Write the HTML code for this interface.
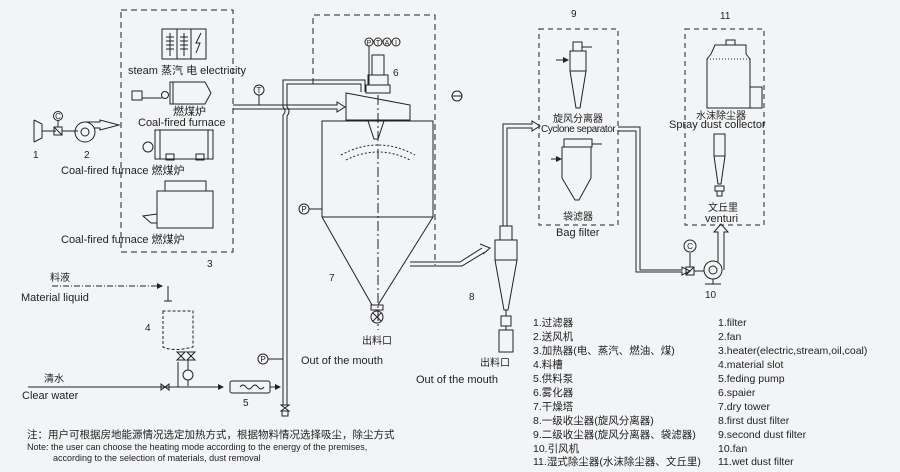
<!DOCTYPE html>
<html><head><meta charset="utf-8"><style>
html,body{margin:0;padding:0;background:#f3f4f6;}
svg{display:block;font-family:"Liberation Sans","Noto Sans CJK SC",sans-serif;}
text{fill:#222;}
</style></head><body>
<svg width="900" height="472" viewBox="0 0 900 472" xmlns="http://www.w3.org/2000/svg">
<rect width="900" height="472" fill="#f3f4f6"/>
<defs>
<marker id="ar" markerWidth="6" markerHeight="6" refX="5" refY="3" orient="auto"><path d="M0,0L6,3L0,6z" fill="#222"/></marker>
</defs>
<g fill="none" stroke="#222" stroke-width="1">
<rect x="121" y="10" width="112" height="242" stroke-dasharray="6,4"/>
<rect x="162" y="29" width="44" height="30"/><line x1="177" y1="29" x2="177" y2="59"/><line x1="191" y1="29" x2="191" y2="59"/>
<line x1="170" y1="33" x2="170" y2="56"/><line x1="184" y1="33" x2="184" y2="56"/>
<path d="M166,37h8M166,41h8M166,45h8M166,49h8M180,37h8M180,41h8M180,45h8M180,49h8"/>
<path d="M201,33l-5,10h4l-4,10"/>
<rect x="132" y="91" width="10" height="9"/><path d="M142,98h20"/><circle cx="165" cy="95" r="3.5"/>
<path d="M170,82h35l6,11l-6,11h-35z"/><line x1="173" y1="82" x2="173" y2="104"/>
<circle cx="148" cy="147" r="5"/><rect x="155" y="130" width="58" height="29"/><line x1="160" y1="130" x2="160" y2="159"/><line x1="208" y1="130" x2="208" y2="159"/>
<rect x="166" y="154" width="8" height="6"/><rect x="196" y="154" width="8" height="6"/>
<rect x="165" y="181" width="41" height="10"/><rect x="157" y="191" width="56" height="37"/><path d="M157,214l-14,2l8,7h6"/>
<path d="M34,120v22M34,120l8,4v14l-8,4M42,131h14"/><rect x="54" y="127" width="8" height="8"/><path d="M54,127l8,8"/><line x1="58" y1="127" x2="58" y2="120"/><circle cx="58" cy="116" r="4.5"/>
<path d="M62,131h16"/><circle cx="85" cy="132" r="10"/><circle cx="85" cy="132" r="4"/>
<path d="M86,122h14v-2l19,5l-19,5v-2h-6"/>
<path d="M233,105h104v-3l8,5l-8,5v-3h-104"/><line x1="259" y1="95" x2="259" y2="105"/><circle cx="259" cy="90" r="5"/>
<path d="M283,405V115q4,-4 0,-8V80h82v12"/><path d="M287,405V116q4,-5 0,-9V84h74v8"/>
<line x1="283" y1="359" x2="268" y2="359"/><circle cx="263" cy="359" r="5"/>
<path d="M281,405l8,0l-8,6h8z"/><rect x="282" y="411" width="6" height="5"/>
<path d="M313,84V15h122v250" stroke-dasharray="6,4"/>
<circle cx="457" cy="96" r="5"/><line x1="452" y1="96" x2="462" y2="96"/>
<rect x="372" y="55" width="12" height="20"/><rect x="368" y="75" width="20" height="10"/><rect x="366" y="85" width="24" height="8"/>
<circle cx="369" cy="42" r="4"/><circle cx="378" cy="42" r="4"/><circle cx="387" cy="42" r="4"/><circle cx="396" cy="42" r="4"/><line x1="369" y1="46" x2="369" y2="85"/>
<path d="M346,93l64,12v15h-64z"/>
<path d="M322,121h111v96l-55,88h-6l-50,-88z"/><line x1="322" y1="217" x2="433" y2="217"/>
<path d="M368,121l6,18h4l6,-18"/><line x1="378" y1="95" x2="378" y2="330" stroke-dasharray="10,3,2,3"/>
<path d="M341,155q37,-20 74,0" stroke-dasharray="2,2"/><path d="M346,160q32,-16 64,0" stroke-dasharray="2,2"/>
<rect x="371" y="305" width="12" height="5"/><circle cx="377" cy="317" r="6"/><path d="M373,313l8,8M381,313l-8,8"/>
<line x1="322" y1="209" x2="309" y2="209"/><circle cx="304" cy="209" r="5"/>
<path d="M410,262h50l22,-14"/><path d="M410,266h52l23,-14" /><path d="M480,244l10,4l-7,6"/>
<rect x="500" y="226" width="12" height="14"/><rect x="495" y="240" width="22" height="20"/><path d="M495,260l9,50h4l9,-50"/>
<rect x="501" y="316" width="10" height="10"/><rect x="499" y="330" width="14" height="22"/><line x1="506" y1="310" x2="506" y2="316"/><line x1="506" y1="326" x2="506" y2="330"/>
<path d="M503,226V124h29v-3l8,5l-8,5v-3h-25v98"/>
<rect x="539" y="29" width="79" height="196" stroke-dasharray="5,4"/>
<rect x="573" y="42" width="9" height="9"/><rect x="570" y="51" width="16" height="20"/><path d="M570,71l6,37h4l6,-37"/><path d="M582,47h10M556,60h12" marker-end="url(#ar)"/>
<rect x="564" y="139" width="28" height="8"/><path d="M562,147h29v31l-12,22h-4l-13,-22z"/><path d="M592,144h10M551,159h10" marker-end="url(#ar)"/>
<path d="M618,127h22v143h42v-3l8,4l-8,4v-3h-46v-141h-18"/>
<rect x="686" y="267" width="8" height="8"/><path d="M686,275l8,-8"/><line x1="690" y1="267" x2="690" y2="253"/><circle cx="690" cy="246" r="6"/>
<line x1="694" y1="271" x2="704" y2="271"/><circle cx="713" cy="270" r="9"/><circle cx="713" cy="270" r="4"/><path d="M705,284h16M713,279v5"/>
<path d="M718,262v-30h-4l7,-8l7,8h-4v38"/>
<rect x="685" y="29" width="79" height="196" stroke-dasharray="5,4"/>
<rect x="726" y="40" width="9" height="5"/><path d="M715,45h31v9l4,5v49h-43v-49l4,-5z"/><line x1="707" y1="59" x2="750" y2="59" stroke-dasharray="1,2"/><rect x="750" y="87" width="12" height="21"/>
<rect x="714" y="134" width="11" height="22"/><path d="M714,156l4,28h3l4,-28"/><rect x="715" y="186" width="9" height="5"/><rect x="717" y="191" width="5" height="5"/>
<path d="M52,286h110" stroke-dasharray="6,2,1,2" marker-end="url(#ar)"/><path d="M168,286v15M164,301h8"/>
<path d="M163,311v36q10,5 30,0v-36z" stroke-dasharray="3,2"/>
<path d="M175,352l4,4l-4,4h8l-4,-4l4,-4zM185,352l4,4l-4,4h8l-4,-4l4,-4z" transform="translate(2,0)"/>
<line x1="188" y1="360" x2="188" y2="370"/><circle cx="188" cy="375" r="5"/><line x1="188" y1="380" x2="188" y2="386"/><line x1="178" y1="362" x2="178" y2="387"/>
<path d="M28,387h195" marker-end="url(#ar)"/><path d="M161,384v6l8,-6v6z"/>
<rect x="230" y="381" width="40" height="12" rx="2"/><path d="M240,387q3,-4 6,0t6,0t6,0t6,0"/><path d="M270,387h10" marker-end="url(#ar)"/>
</g>
<g font-size="11">
<text x="128" y="74">steam 蒸汽 电 electricity</text>
<text x="173" y="115">燃煤炉</text>
<text x="138" y="126">Coal-fired furnace</text>
<text x="61" y="174">Coal-fired furnace 燃煤炉</text>
<text x="61" y="243">Coal-fired furnace 燃煤炉</text>
<text x="33" y="158" font-size="10">1</text><text x="84" y="158" font-size="10">2</text>
<text x="207" y="267" font-size="10">3</text>
<text x="58" y="119" font-size="8" text-anchor="middle">C</text>
<text x="259" y="93" font-size="8" text-anchor="middle">T</text>
<text x="304" y="212" font-size="8" text-anchor="middle">P</text>
<text x="263" y="362" font-size="8" text-anchor="middle">P</text>
<text x="690" y="249" font-size="8" text-anchor="middle">C</text>
<text x="369" y="45" font-size="7" text-anchor="middle">P</text><text x="378" y="45" font-size="7" text-anchor="middle">T</text><text x="387" y="45" font-size="7" text-anchor="middle">A</text><text x="396" y="45" font-size="7" text-anchor="middle">I</text>
<text x="393" y="76" font-size="10">6</text>
<text x="329" y="281" font-size="10">7</text>
<text x="469" y="300" font-size="10">8</text>
<text x="571" y="17" font-size="10">9</text>
<text x="720" y="19" font-size="10">11</text>
<text x="705" y="298" font-size="10">10</text>
<text x="145" y="331" font-size="10">4</text>
<text x="243" y="406" font-size="10">5</text>
<text x="362" y="344" font-size="10">出料口</text>
<text x="301" y="364">Out of the mouth</text>
<text x="480" y="366" font-size="10">出料口</text>
<text x="416" y="383">Out of the mouth</text>
<text x="553" y="122" font-size="10">旋风分离器</text>
<text x="541" y="132" font-size="10" letter-spacing="-0.4">Cyclone separator</text>
<text x="563" y="220" font-size="10">袋滤器</text>
<text x="556" y="236">Bag filter</text>
<text x="696" y="119" font-size="10">水沫除尘器</text>
<text x="669" y="128">Spray dust collector</text>
<text x="708" y="211" font-size="10">文丘里</text>
<text x="705" y="222">venturi</text>
<text x="50" y="281" font-size="10">料液</text>
<text x="21" y="301">Material liquid</text>
<text x="44" y="382" font-size="10">清水</text>
<text x="22" y="399">Clear water</text>
</g>
<g font-size="10.5">
<text x="533" y="326">1.过滤器</text><text x="533" y="340">2.送风机</text><text x="533" y="354">3.加热器(电、蒸汽、燃油、煤)</text>
<text x="533" y="368">4.料槽</text><text x="533" y="382">5.供料泵</text><text x="533" y="396">6.雾化器</text><text x="533" y="410">7.干燥塔</text>
<text x="533" y="424">8.一级收尘器(旋风分离器)</text><text x="533" y="438">9.二级收尘器(旋风分离器、袋滤器)</text>
<text x="533" y="452">10.引风机</text><text x="533" y="465">11.湿式除尘器(水沫除尘器、文丘里)</text>
<text x="718" y="326">1.filter</text><text x="718" y="340">2.fan</text><text x="718" y="354">3.heater(electric,stream,oil,coal)</text>
<text x="718" y="368">4.material slot</text><text x="718" y="382">5.feding pump</text><text x="718" y="396">6.spaier</text><text x="718" y="410">7.dry tower</text>
<text x="718" y="424">8.first dust filter</text><text x="718" y="438">9.second dust filter</text><text x="718" y="452">10.fan</text><text x="718" y="465">11.wet dust filter</text>
</g>
<text x="27" y="438" font-size="10.5">注：用户可根据房地能源情况选定加热方式，根据物料情况选择吸尘，除尘方式</text>
<text x="27" y="450" font-size="9">Note: the user can choose the heating mode according to the energy of the premises,</text>
<text x="53" y="461" font-size="9">according to the selection of materials, dust removal</text>
</svg>
</body></html>
